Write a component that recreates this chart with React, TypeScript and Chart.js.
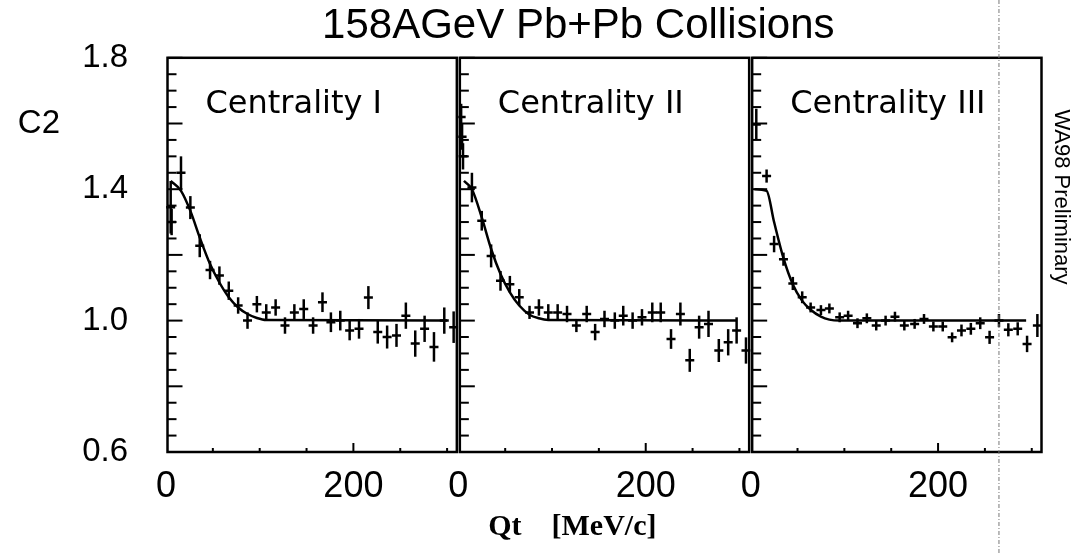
import React, { useEffect, useRef } from "react";
import { Chart, registerables } from "chart.js";

Chart.register(...registerables);

// ---------- text ----------
const chartTitle = "158AGeV Pb+Pb Collisions";
const yAxisLabel = "C2";
const xAxisLabel = "Qt    [MeV/c]";
const watermark = "WA98 Preliminary";
const panelLabels = ["Centrality I", "Centrality II", "Centrality III"];

// ---------- axes ----------
const xTickValues = [0, 200];
const yTickValues = [0.6, 1.0, 1.4, 1.8];
const qtMin = 0;
const qtMax = 312;
const c2Min = 0.6;
const c2Max = 1.8;
const scanLineQt = 265; // faint vertical scan line seen over panel III

// ---------- Centrality I ----------
const qt1 = [5, 6, 16, 26, 36, 47, 57, 67, 77, 87, 97, 107, 117, 127, 137, 147, 157, 167, 176, 186, 196, 206, 216, 226, 236, 246, 256, 266, 276, 286, 297, 307];
const c2_1 = [1.345, 1.3, 1.45, 1.344, 1.228, 1.154, 1.137, 1.091, 1.046, 1.0, 1.05, 1.025, 1.04, 0.985, 1.025, 1.035, 0.985, 1.056, 0.995, 1.0, 0.97, 0.975, 1.07, 0.965, 0.95, 0.955, 1.015, 0.93, 0.975, 0.92, 1.0, 0.98];
const err1 = [0.08, 0.04, 0.05, 0.035, 0.035, 0.028, 0.028, 0.028, 0.025, 0.025, 0.025, 0.025, 0.025, 0.025, 0.025, 0.03, 0.025, 0.03, 0.03, 0.03, 0.03, 0.03, 0.035, 0.035, 0.035, 0.035, 0.04, 0.04, 0.04, 0.045, 0.04, 0.048];
const fitQt1 = [5, 16, 26, 36, 47, 57, 67, 77, 87, 97, 107, 300];
const fitC2_1 = [1.425, 1.395, 1.334, 1.253, 1.172, 1.116, 1.071, 1.04, 1.02, 1.008, 1.002, 1.0];

// ---------- Centrality II ----------
const qt2 = [3, 4, 5, 14.5, 25, 35, 45, 55, 65, 76, 86, 96, 106, 116, 126, 137, 146, 156, 167, 176, 186, 196, 207, 216, 227, 237, 247, 257, 267, 278, 288, 297, 307];
const c2_2 = [1.62, 1.56, 1.5, 1.405, 1.304, 1.197, 1.121, 1.111, 1.071, 1.025, 1.04, 1.025, 1.025, 1.02, 0.985, 1.02, 0.965, 1.005, 1.0, 1.015, 1.0, 1.01, 1.025, 1.025, 0.944, 1.02, 0.879, 0.98, 0.99, 0.909, 0.934, 0.97, 0.909];
const err2 = [0.04, 0.04, 0.04, 0.045, 0.03, 0.035, 0.03, 0.025, 0.025, 0.02, 0.025, 0.025, 0.025, 0.025, 0.02, 0.025, 0.025, 0.025, 0.025, 0.03, 0.025, 0.025, 0.03, 0.03, 0.03, 0.035, 0.035, 0.035, 0.04, 0.035, 0.04, 0.04, 0.04];
const fitQt2 = [6, 14.5, 25, 35, 45, 55, 65, 76, 86, 96, 297];
const fitC2_2 = [1.425, 1.4, 1.314, 1.218, 1.142, 1.086, 1.046, 1.018, 1.007, 1.002, 1.0];

// ---------- Centrality III ----------
const qt3 = [6, 17, 25, 35, 45, 55, 64, 75, 84, 95, 104, 114, 124, 134, 144, 154, 164, 175, 185, 195, 205, 215, 225, 235, 245, 255, 265, 275, 285, 295, 306];
const c2_3 = [1.597, 1.44, 1.233, 1.187, 1.113, 1.071, 1.04, 1.032, 1.037, 1.01, 1.015, 0.992, 1.007, 0.985, 1.0, 1.012, 0.985, 0.99, 1.005, 0.982, 0.982, 0.949, 0.97, 0.975, 0.992, 0.949, 1.0, 0.972, 0.975, 0.929, 0.985];
const err3 = [0.048, 0.02, 0.025, 0.02, 0.02, 0.018, 0.015, 0.015, 0.015, 0.015, 0.015, 0.015, 0.015, 0.015, 0.015, 0.015, 0.015, 0.015, 0.015, 0.015, 0.015, 0.015, 0.018, 0.018, 0.018, 0.02, 0.02, 0.02, 0.02, 0.025, 0.035];
const fitQt3 = [4, 17, 25, 35, 45, 55, 64, 75, 84, 95, 294];
const fitC2_3 = [1.4, 1.395, 1.3, 1.19, 1.11, 1.06, 1.033, 1.012, 1.003, 1.0, 1.0];

const panels = [
  { qt: qt1, c2: c2_1, err: err1, fitQt: fitQt1, fitC2: fitC2_1 },
  { qt: qt2, c2: c2_2, err: err2, fitQt: fitQt2, fitC2: fitC2_2 },
  { qt: qt3, c2: c2_3, err: err3, fitQt: fitQt3, fitC2: fitC2_3 },
];

const INK = "#000";

const overlayPlugin = {
  id: "paw-overlay",
  afterDatasetsDraw(chart: any) {
    const ctx = chart.ctx;
    const ys = chart.scales.y;
    ctx.save();
    ctx.strokeStyle = INK;
    ctx.lineWidth = 2.5;
    chart.data.datasets.forEach((ds: any, i: number) => {
      if (!ds.errors) return;
      const meta = chart.getDatasetMeta(i);
      meta.data.forEach((pt: any, j: number) => {
        const v = ds.data[j].y;
        const e = ds.errors[j];
        ctx.beginPath();
        ctx.moveTo(pt.x, ys.getPixelForValue(v + e));
        ctx.lineTo(pt.x, ys.getPixelForValue(v - e));
        ctx.stroke();
      });
    });
    ctx.restore();
  },
  afterDraw(chart: any) {
    const ctx = chart.ctx;
    const area = chart.chartArea;
    const ys = chart.scales.y;
    ctx.save();
    ctx.strokeStyle = INK;
    ctx.fillStyle = INK;
    ["x1", "x2", "x3"].forEach((id, p) => {
      const xs = chart.scales[id];
      const l = xs.left + 1.5;
      const r = xs.right - 1.5;
      const t = area.top;
      const b = area.bottom;
      // y ticks (inward)
      ctx.lineWidth = 2;
      for (let k = 0; k <= 24; k++) {
        const v = c2Min + k * 0.05;
        const py = ys.getPixelForValue(v);
        const len = k % 4 === 0 ? 15 : 9;
        ctx.beginPath();
        ctx.moveTo(l, py);
        ctx.lineTo(l + len, py);
        ctx.stroke();
      }
      // x ticks (inward)
      for (let v = 50; v < qtMax; v += 50) {
        const px = xs.getPixelForValue(v);
        const len = v % 200 === 0 ? 9 : 4;
        ctx.beginPath();
        ctx.moveTo(px, b);
        ctx.lineTo(px, b - len);
        ctx.stroke();
      }
      // frame
      ctx.lineWidth = 2.5;
      ctx.strokeRect(l, t, r - l, b - t);
      // panel label
      ctx.font = "32px 'DejaVu Sans'";
      ctx.textAlign = "left";
      ctx.textBaseline = "alphabetic";
      ctx.fillText(panelLabels[p], l + 38, t + 55);
    });
    const x2 = chart.scales.x2;
    // main title, above the panels
    ctx.font = "42px 'Liberation Sans'";
    ctx.textAlign = "center";
    ctx.textBaseline = "middle";
    ctx.fillText(chartTitle, x2.left + 120, area.top - 31);
    // x axis label (bold serif), under the middle panel
    ctx.font = "bold 30px 'Liberation Serif'";
    ctx.fillText(xAxisLabel, x2.left + 114, area.bottom + 75);
    // C2 label
    ctx.font = "33px 'Liberation Sans'";
    ctx.textAlign = "right";
    ctx.fillText(yAxisLabel, 60, 124);
    // watermark rotated
    ctx.save();
    ctx.translate(area.right + 18, 197);
    ctx.rotate(Math.PI / 2);
    ctx.font = "22px 'Liberation Sans'";
    ctx.textAlign = "center";
    ctx.textBaseline = "middle";
    ctx.fillText(watermark, 0, 0);
    ctx.restore();
    // faint scan line
    const sx = chart.scales.x3.getPixelForValue(scanLineQt);
    ctx.strokeStyle = "#777";
    ctx.lineWidth = 1;
    ctx.setLineDash([4, 2, 1, 2]);
    ctx.beginPath();
    ctx.moveTo(sx, 0);
    ctx.lineTo(sx, chart.height);
    ctx.stroke();
    ctx.restore();
  },
};

function xScale() {
  return {
    type: "linear",
    position: "bottom",
    stack: "qt",
    stackWeight: 1,
    min: qtMin,
    max: qtMax,
    grid: { display: false, drawTicks: false },
    border: { display: false },
    ticks: {
      color: INK,
      font: { family: "'Liberation Sans'", size: 36 },
      padding: 13,
      maxRotation: 0,
      autoSkip: false,
    },
    afterBuildTicks: (s: any) => {
      s.ticks = xTickValues.map((v) => ({ value: v }));
    },
    afterFit: (s: any) => {
      s.height = 100;
    },
  };
}

export default function App() {
  const ref = useRef<HTMLCanvasElement | null>(null);
  useEffect(() => {
    if (!ref.current) return;
    const datasets: any[] = [];
    panels.forEach((pn, i) => {
      const xid = "x" + (i + 1);
      datasets.push({
        type: "scatter",
        data: pn.qt.map((q, j) => ({ x: q, y: pn.c2[j] })),
        errors: pn.err,
        xAxisID: xid,
        yAxisID: "y",
        pointStyle: "line",
        pointRadius: 4.5,
        pointBorderWidth: 2.5,
        borderColor: INK,
        backgroundColor: INK,
        showLine: false,
      });
      datasets.push({
        type: "line",
        data: pn.fitQt.map((q, j) => ({ x: q, y: pn.fitC2[j] })),
        xAxisID: xid,
        yAxisID: "y",
        borderColor: INK,
        borderWidth: 2.5,
        pointRadius: 0,
        fill: false,
        cubicInterpolationMode: "monotone",
      });
    });
    const chart = new Chart(ref.current, {
      type: "scatter",
      data: { datasets },
      options: {
        responsive: false,
        devicePixelRatio: 1,
        animation: false,
        layout: { padding: { top: 57, left: 0, right: 35, bottom: 2 } },
        scales: {
          x1: xScale(),
          x2: xScale(),
          x3: xScale(),
          y: {
            type: "linear",
            position: "left",
            min: c2Min,
            max: c2Max,
            grid: { display: false, drawTicks: false },
            border: { display: false },
            ticks: {
              color: INK,
              font: { family: "'Liberation Sans'", size: 33 },
              padding: 38,
              callback: (v: any) => Number(v).toFixed(1),
            },
            afterBuildTicks: (s: any) => {
              s.ticks = yTickValues.map((v) => ({ value: v }));
            },
            afterFit: (s: any) => {
              s.width = 166;
            },
          },
        } as any,
        plugins: {
          legend: { display: false },
          tooltip: { enabled: false },
          title: { display: false },
        },
      } as any,
      plugins: [overlayPlugin],
    });
    return () => chart.destroy();
  }, []);
  return (
    <div style={{ position: "fixed", left: 0, top: 0, width: 1078, height: 554, background: "#fff" }}>
      <canvas ref={ref} width={1078} height={554} style={{ width: 1078, height: 554, display: "block" }} />
    </div>
  );
}
